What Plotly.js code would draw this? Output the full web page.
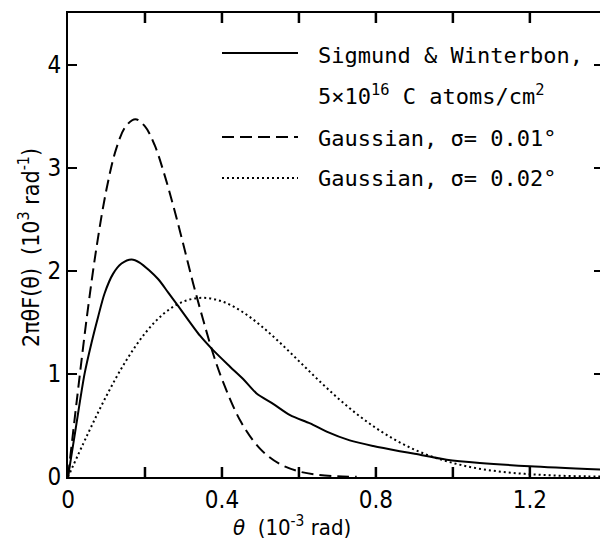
<!DOCTYPE html>
<html>
<head>
<meta charset="utf-8">
<script src="https://cdn.plot.ly/plotly-3.0.1.min.js"></script>
<style>
html,body{margin:0;padding:0;overflow:hidden;background:#fff;width:600px;height:540px;}
#chart{width:606px;height:540px;}
</style>
</head>
<body>
<div id="chart"></div>
<script>
// Sigmund & Winterbon distribution
const thetaSW = [0, 0.02, 0.043, 0.061, 0.078, 0.095, 0.117, 0.139, 0.165, 0.186, 0.234, 0.26, 0.284, 0.343, 0.377, 0.421, 0.455, 0.49, 0.533, 0.577, 0.629, 0.672, 0.732, 0.793, 0.862, 0.897, 0.984, 1.07, 1.2, 1.39];
const valSW   = [0, 0.47, 1.0, 1.30, 1.55, 1.78, 1.97, 2.07, 2.11, 2.08, 1.92, 1.79, 1.67, 1.37, 1.23, 1.07, 0.95, 0.81, 0.71, 0.60, 0.52, 0.44, 0.355, 0.30, 0.25, 0.227, 0.168, 0.136, 0.104, 0.072];

// Gaussian sigma = 0.01 deg (dashed)
const thetaG1 = [0, 0.025, 0.05, 0.075, 0.1, 0.125, 0.15, 0.175, 0.2, 0.225, 0.25, 0.275, 0.3, 0.325, 0.35, 0.375, 0.4, 0.45, 0.5, 0.55, 0.6, 0.65, 0.7, 0.75];
const valG1   = [0, 0.81, 1.58, 2.25, 2.79, 3.18, 3.40, 3.47, 3.40, 3.22, 2.94, 2.61, 2.25, 1.88, 1.54, 1.22, 0.95, 0.53, 0.27, 0.126, 0.054, 0.021, 0.007, 0.002];

// Gaussian sigma = 0.02 deg (dotted)
const thetaG2 = [0, 0.05, 0.1, 0.15, 0.2, 0.25, 0.3, 0.35, 0.4, 0.45, 0.5, 0.55, 0.6, 0.65, 0.7, 0.75, 0.8, 0.85, 0.9, 0.95, 1.0, 1.05, 1.1, 1.15, 1.2, 1.25, 1.3, 1.35, 1.39];
const valG2   = [0, 0.406, 0.788, 1.122, 1.393, 1.588, 1.702, 1.738, 1.703, 1.609, 1.471, 1.305, 1.124, 0.942, 0.769, 0.612, 0.475, 0.360, 0.266, 0.192, 0.136, 0.093, 0.063, 0.042, 0.027, 0.017, 0.010, 0.006, 0.004];

const xTickVals = [0, 0.4, 0.8, 1.2];
const xTickText = ["0", "0.4", "0.8", "1.2"];
const xMinorVals = [0.2, 0.6, 1.0];
const yTickVals = [0, 1, 2, 3, 4];
const yTickText = ["0", "1", "2", "3", "4"];

const legendLabels = [
  "Sigmund &amp; Winterbon,",
  "5×10<sup>16</sup> C atoms/cm<sup>2</sup>",
  "Gaussian, σ= 0.01°",
  "Gaussian, σ= 0.02°"
];
const xTitle = "<i>θ</i>  (10<sup>-3</sup> rad)";
const yTitle = "2πθF(θ)  (10<sup>3</sup> rad<sup>-1</sup>)";

const tickFont = {family: "Liberation Sans Narrow, DejaVu Sans Condensed, DejaVu Sans, sans-serif", size: 24, color: "#000"};
const monoFont = {family: "DejaVu Sans Mono, Liberation Mono, monospace", size: 22, color: "#000"};

const traces = [
  {x: thetaSW, y: valSW, mode: "lines", line: {color: "#000", width: 2, shape: "spline", smoothing: 0.8}, hoverinfo: "skip"},
  {x: thetaG1, y: valG1, mode: "lines", line: {color: "#000", width: 2, dash: "12px,6px", shape: "spline"}, hoverinfo: "skip"},
  {x: thetaG2, y: valG2, mode: "lines", line: {color: "#000", width: 2, dash: "2px,3px", shape: "spline"}, hoverinfo: "skip"}
];

// helpers for pixel-ish placement of legend decorations in paper coords
const L = 68, T = 13, W = 535, H = 464;
const px = v => (v - L) / W;
const py = v => (T + H - v) / H;
const tickLen = 10 / H;

const shapes = [
  {type: "line", xref: "paper", yref: "paper", x0: px(222), x1: px(298), y0: py(53), y1: py(53), line: {color: "#000", width: 2}},
  {type: "line", xref: "paper", yref: "paper", x0: px(222), x1: px(298), y0: py(137), y1: py(137), line: {color: "#000", width: 2, dash: "12px,6px"}},
  {type: "line", xref: "paper", yref: "paper", x0: px(222), x1: px(298), y0: py(178), y1: py(178), line: {color: "#000", width: 2, dash: "2px,3px"}}
];
// inward x ticks on bottom and top edges (at the axis tick values)
xTickVals.concat(xMinorVals).filter(v => v > 0).forEach(v => {
  shapes.push({type: "rect", xref: "x", yref: "paper", x0: v, x1: v, y0: 0, y1: tickLen, line: {color: "#000", width: 2.5}});
  shapes.push({type: "rect", xref: "x", yref: "paper", x0: v, x1: v, y0: 1 - tickLen, y1: 1, line: {color: "#000", width: 2.5}});
});

const legendY = [55, 95, 138, 178];
const annotations = legendLabels.map((t, i) => ({
  text: t, xref: "paper", yref: "paper", x: px(316), y: py(legendY[i]),
  xanchor: "left", yanchor: "middle", showarrow: false, font: monoFont
}));
annotations.push({text: xTitle, xref: "paper", yref: "paper", x: px(292), y: py(526),
  xanchor: "center", yanchor: "middle", showarrow: false, font: {family: tickFont.family, size: 22, color: "#000"}});
annotations.push({text: yTitle, xref: "paper", yref: "paper", x: px(29), y: py(248), textangle: -90,
  xanchor: "center", yanchor: "middle", showarrow: false, font: {family: tickFont.family, size: 23, color: "#000"}});

const layout = {
  width: 606, height: 540,
  margin: {l: L, r: 3, t: T, b: 540 - T - H},
  paper_bgcolor: "#fff", plot_bgcolor: "#fff",
  showlegend: false,
  xaxis: {range: [0, 1.39], tickmode: "array", tickvals: xTickVals, ticktext: xTickText, ticks: "inside", ticklen: 10, tickwidth: 2.5,
    tickcolor: "#000", showline: true, linecolor: "#000", linewidth: 2, mirror: "ticks", showgrid: false, zeroline: false,
    tickfont: tickFont},
  yaxis: {range: [0, 4.5], tickmode: "array", tickvals: yTickVals, ticktext: yTickText, ticks: "inside", ticklen: 9, tickwidth: 2,
    tickcolor: "#000", showline: true, linecolor: "#000", linewidth: 2, mirror: "ticks", showgrid: false, zeroline: false,
    tickfont: tickFont},
  shapes: shapes,
  annotations: annotations
};

Plotly.newPlot("chart", traces, layout, {displayModeBar: false, staticPlot: true});
</script>
</body>
</html>
